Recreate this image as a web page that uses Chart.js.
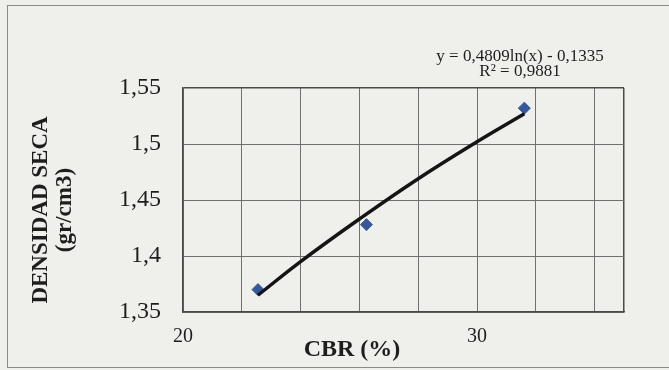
<!DOCTYPE html>
<html>
<head>
<meta charset="utf-8">
<script src="https://cdn.jsdelivr.net/npm/chart.js@4/dist/chart.umd.min.js"></script>
<style>
  html, body { margin: 0; padding: 0; background: #efefec; }
  #wrap { position: relative; width: 669px; height: 370px; }
</style>
</head>
<body>
<div id="wrap"><canvas id="myChart"></canvas></div>
<script>
// measured points (CBR %, dry density)
const cbr = [22.55, 26.24, 31.61];
const densidad = [1.370, 1.428, 1.532];

// log trendline
const trendCbr = [22.55, 24, 26, 28, 30, 31.61];
const trendDensidad = [1.365, 1.395, 1.433, 1.469, 1.502, 1.527];

const xGridValues = [20, 22, 24, 26, 28, 30, 32, 34, 35];
const xLabelValues = [20, 30];
const yTickValues = [1.35, 1.4, 1.45, 1.5, 1.55];
const yTickLabels = ['1,35', '1,4', '1,45', '1,5', '1,55'];

const COLORS = {
    marker: '#35589a',
    trend: '#151515',
    grid: '#707070',
    frame: '#4a4a4a',
    text: '#1e1e1e',
};

const SERIF = "'Liberation Serif', 'Times New Roman', serif";

const annotations = {
    id: 'annotations',
    afterDraw(chart) {
        const c = chart.ctx;
        c.save();
        // outer frame of the chart
        c.strokeStyle = '#8a8a8a';
        c.lineWidth = 1;
        c.strokeRect(7.5, 5.5, 700, 362);

        c.fillStyle = COLORS.text;
        c.textAlign = 'center';
        c.textBaseline = 'middle';
        c.font = '17px ' + SERIF;
        c.fillText('y = 0,4809ln(x) - 0,1335', 520, 57);
        c.fillText('R² = 0,9881', 520, 72);

        c.font = 'bold 24px ' + SERIF;
        c.fillText('CBR (%)', 352, 350);

        c.translate(0, 210);
        c.rotate(-Math.PI / 2);
        c.font = 'bold 23px ' + SERIF;
        c.fillText('DENSIDAD SECA', 0, 41);
        c.fillText('(gr/cm3)', 0, 65);
        c.restore();
    }
};

const ctx = document.getElementById('myChart').getContext('2d');

new Chart(ctx, {
    type: 'scatter',
    data: {
        datasets: [{
            label: 'Trend',
            data: trendCbr.map((x, i) => ({x: x, y: trendDensidad[i]})),
            showLine: true,
            borderColor: COLORS.trend,
            borderWidth: 3.5,
            pointRadius: 0,
            tension: 0.4,
            order: 0
        }, {
            label: 'Densidad',
            data: cbr.map((x, i) => ({x: x, y: densidad[i]})),
            pointStyle: 'rectRot',
            pointRadius: 6,
            backgroundColor: COLORS.marker,
            borderColor: COLORS.marker,
            order: 1
        }]
    },
    options: {
        responsive: true,
        maintainAspectRatio: false,
        animation: false,
        layout: {
            padding: {top: 88, right: 45, left: 0, bottom: 0}
        },
        plugins: {
            legend: {display: false},
            tooltip: {enabled: false}
        },
        scales: {
            x: {
                type: 'linear',
                min: 20,
                max: 35,
                afterBuildTicks: (s) => { s.ticks = xGridValues.map(v => ({value: v})); },
                afterFit: (s) => { s.height = 58; },
                ticks: {
                    autoSkip: false,
                    maxRotation: 0,
                    padding: 13,
                    color: COLORS.text,
                    font: {family: SERIF, size: 20},
                    callback: (v) => xLabelValues.includes(v) ? String(v) : ''
                },
                grid: {
                    color: (c) => c.tick && c.tick.value === 35 ? COLORS.frame : COLORS.grid,
                    lineWidth: (c) => c.tick && c.tick.value === 35 ? 1.5 : 1,
                    drawTicks: false
                },
                border: {color: COLORS.frame, width: 1.5}
            },
            y: {
                min: 1.35,
                max: 1.55,
                afterBuildTicks: (s) => { s.ticks = yTickValues.map(v => ({value: v})); },
                afterFit: (s) => { s.width = 183; },
                ticks: {
                    autoSkip: false,
                    padding: 22,
                    color: COLORS.text,
                    font: {family: SERIF, size: 24},
                    callback: (v, i) => yTickLabels[i]
                },
                grid: {
                    color: (c) => c.tick && c.tick.value === 1.55 ? COLORS.frame : COLORS.grid,
                    lineWidth: (c) => c.tick && c.tick.value === 1.55 ? 1.5 : 1,
                    drawTicks: false
                },
                border: {color: COLORS.frame, width: 1.5}
            }
        }
    },
    plugins: [annotations]
});
</script>
</body>
</html>
